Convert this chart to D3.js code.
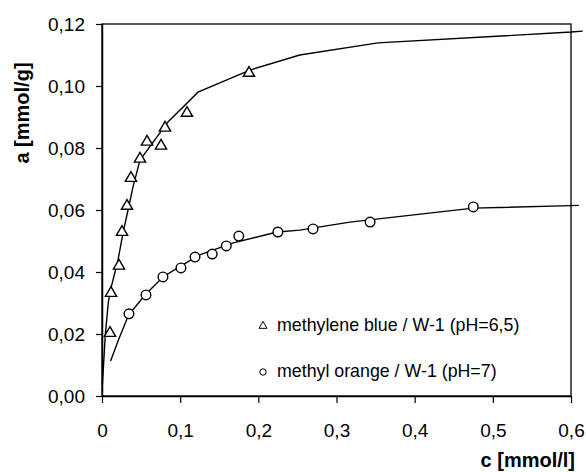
<!DOCTYPE html>
<html>
<head>
<meta charset="utf-8">
<script src="https://cdn.jsdelivr.net/npm/d3@7"></script>
<style>
  body { margin: 0; background: #fff; }
  svg { display: block; font-family: "Liberation Sans", Arial, sans-serif; }
</style>
</head>
<body>
<svg id="chart" width="586" height="472"></svg>
<script>
// measured points, methylene blue / W-1 (pH=6,5)
const blueC = [0.0102, 0.0115, 0.0217, 0.0256, 0.032, 0.037, 0.0486, 0.0576, 0.0755, 0.0806, 0.1087, 0.188];
const blueA = [0.0206, 0.0335, 0.0423, 0.0532, 0.0616, 0.0706, 0.0768, 0.0823, 0.081, 0.0868, 0.0916, 0.1045];

// measured points, methyl orange / W-1 (pH=7)
const orangeC = [0.0345, 0.0563, 0.078, 0.101, 0.119, 0.141, 0.159, 0.175, 0.225, 0.270, 0.343, 0.475];
const orangeA = [0.0265, 0.0326, 0.0384, 0.0413, 0.0448, 0.0458, 0.0484, 0.0516, 0.0529, 0.0539, 0.0561, 0.061];

// fitted curves
const blueFitC = [0.0005, 0.004, 0.008, 0.0102, 0.0205, 0.0269, 0.0333, 0.0396, 0.0486, 0.0844, 0.1228, 0.19, 0.253, 0.353, 0.6, 0.615];
const blueFitA = [0.0035, 0.019, 0.030, 0.0335, 0.0439, 0.0526, 0.060, 0.0674, 0.0761, 0.0884, 0.098, 0.1052, 0.110, 0.1139, 0.1174, 0.1177];
const orangeFitC = [0.011, 0.021, 0.034, 0.055, 0.078, 0.1, 0.125, 0.168, 0.224, 0.253, 0.317, 0.475, 0.6, 0.61];
const orangeFitA = [0.0113, 0.0181, 0.0261, 0.0326, 0.0384, 0.0418, 0.0455, 0.0494, 0.0529, 0.0535, 0.0561, 0.0606, 0.0614, 0.0615];

// ticks
const xTicks = [0, 0.1, 0.2, 0.3, 0.4, 0.5, 0.6];
const yTicks = [0, 0.02, 0.04, 0.06, 0.08, 0.10, 0.12];

const legendLabels = ["methylene blue / W-1 (pH=6,5)", "methyl orange / W-1 (pH=7)"];

const svg = d3.select("#chart");
const pLeft = 102, pRight = 571, pTop = 24, pBottom = 396;

const x = d3.scaleLinear().domain([0, 0.6]).range([pLeft, pRight]);
const y = d3.scaleLinear().domain([0, 0.12]).range([pBottom, pTop]);

const comma = s => s.replace(".", ",");

// frame
svg.append("rect")
  .attr("x", pLeft).attr("y", pTop)
  .attr("width", pRight - pLeft).attr("height", pBottom - pTop)
  .attr("fill", "none").attr("stroke", "#000").attr("stroke-width", 1.3);

// axes
const xAxis = svg.append("g")
  .attr("transform", `translate(0,${pBottom})`)
  .call(d3.axisBottom(x).tickValues(xTicks).tickSize(7).tickSizeOuter(0)
    .tickFormat(d => d === 0 ? "0" : comma(d3.format(".1f")(d))));
const yAxis = svg.append("g")
  .attr("transform", `translate(${pLeft},0)`)
  .call(d3.axisLeft(y).tickValues(yTicks).tickSize(6).tickSizeOuter(0)
    .tickFormat(d => comma(d3.format(".2f")(d))));

[xAxis, yAxis].forEach(g => {
  g.select(".domain").attr("stroke", "#000").attr("stroke-width", 1.5);
  g.selectAll(".tick line").attr("stroke", "#000").attr("stroke-width", 1.2);
  g.selectAll(".tick text")
    .attr("font-family", "Liberation Sans, Arial, sans-serif")
    .attr("font-size", 19).attr("fill", "#000");
});
xAxis.selectAll(".tick text").attr("dy", null).attr("y", 41);
yAxis.selectAll(".tick text").attr("x", -17).attr("dy", "0.35em");

// axis titles
svg.append("text")
  .attr("x", 575).attr("y", 467)
  .attr("text-anchor", "end")
  .attr("font-size", 20).attr("font-weight", "bold")
  .text("c [mmol/l]");
svg.append("text")
  .attr("transform", "translate(29,113) rotate(-90)")
  .attr("text-anchor", "middle")
  .attr("font-size", 20).attr("font-weight", "bold")
  .text("a [mmol/g]");

// fit curves
const line = d3.line().x(d => x(d[0])).y(d => y(d[1]));
const plot = svg.append("g");
[[blueFitC, blueFitA], [orangeFitC, orangeFitA]].forEach(([cs, as]) => {
  plot.append("path")
    .attr("d", line(cs.map((c, i) => [c, as[i]])))
    .attr("fill", "none").attr("stroke", "#000").attr("stroke-width", 1.4);
});

// markers
const tri = d3.symbol().type(d3.symbolTriangle);
plot.selectAll(".tri")
  .data(blueC.map((c, i) => [c, blueA[i]]))
  .join("path")
  .attr("class", "tri")
  .attr("transform", d => `translate(${x(d[0])},${y(d[1]) + 1})`)
  .attr("d", tri.size(55)())
  .attr("fill", "#fff").attr("stroke", "#000").attr("stroke-width", 1.4);

plot.selectAll(".circ")
  .data(orangeC.map((c, i) => [c, orangeA[i]]))
  .join("circle")
  .attr("class", "circ")
  .attr("cx", d => x(d[0])).attr("cy", d => y(d[1]))
  .attr("r", 4.8)
  .attr("fill", "#fff").attr("stroke", "#000").attr("stroke-width", 1.4);

// legend
const legend = svg.append("g");
legend.append("path")
  .attr("transform", "translate(263,326)")
  .attr("d", tri.size(28)())
  .attr("fill", "#fff").attr("stroke", "#000").attr("stroke-width", 1);
legend.append("circle")
  .attr("cx", 263).attr("cy", 372).attr("r", 3.2)
  .attr("fill", "#fff").attr("stroke", "#000").attr("stroke-width", 1);
legend.selectAll("text")
  .data(legendLabels)
  .join("text")
  .attr("x", 277)
  .attr("y", (d, i) => 331 + i * 46)
  .attr("font-size", 17.8)
  .text(d => d);
</script>
</body>
</html>
